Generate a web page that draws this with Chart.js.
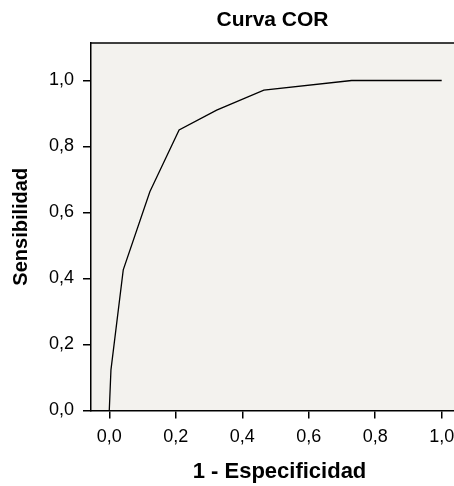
<!DOCTYPE html>
<html>
<head>
<meta charset="utf-8">
<script src="https://cdn.jsdelivr.net/npm/chart.js@4/dist/chart.umd.min.js"></script>
<style>
  html, body { margin: 0; padding: 0; background: #fff; }
  #chart { display: block; }
</style>
</head>
<body>
<canvas id="chart" width="454" height="486"></canvas>
<script>
// ROC curve points
const falsePositive = [0, 0.005, 0.042, 0.122, 0.21, 0.323, 0.465, 0.729, 1.0];
const sensitivity = [0, 0.123, 0.426, 0.663, 0.85, 0.91, 0.971, 1.0, 1.0];
const xTicks = [0, 0.2, 0.4, 0.6, 0.8, 1.0];
const yTicks = [0, 0.2, 0.4, 0.6, 0.8, 1.0];

const chartTitle = 'Curva COR';
const xTitle = '1 - Especificidad';
const yTitle = 'Sensibilidad';

const fontFamily = '"Liberation Sans", Arial, Helvetica, sans-serif';

function fmt(v) {
    return v.toFixed(1).replace('.', ',');
}

const points = falsePositive.map((x, i) => ({ x: x, y: sensitivity[i] }));

// plot background, top border, main title and x title
const framePlugin = {
    id: 'frame',
    beforeDraw(chart) {
        const ctx = chart.ctx;
        const a = chart.chartArea;
        ctx.save();
        ctx.fillStyle = '#f3f2ee';
        ctx.fillRect(a.left, a.top, chart.width - a.left, a.bottom - a.top);
        ctx.restore();
    },
    afterDraw(chart) {
        const ctx = chart.ctx;
        const a = chart.chartArea;
        ctx.save();
        ctx.strokeStyle = '#000';
        ctx.lineWidth = 1.5;
        ctx.beginPath();
        ctx.moveTo(a.left, a.top);
        ctx.lineTo(chart.width, a.top);
        ctx.stroke();

        ctx.fillStyle = '#000';
        ctx.textAlign = 'center';
        ctx.textBaseline = 'alphabetic';
        ctx.font = 'bold 21px ' + fontFamily;
        ctx.fillText(chartTitle, (a.left + chart.width) / 2, 26);

        ctx.font = 'bold 22px ' + fontFamily;
        ctx.fillText(xTitle, (a.left + chart.width) / 2 + 7, 478);
        ctx.restore();
    }
};

const ctx = document.getElementById('chart').getContext('2d');
new Chart(ctx, {
    type: 'scatter',
    data: {
        datasets: [{
            data: points,
            showLine: true,
            borderColor: '#000',
            borderWidth: 1.3,
            pointRadius: 0,
            pointHoverRadius: 0,
            fill: false,
            tension: 0
        }]
    },
    options: {
        responsive: false,
        animation: false,
        devicePixelRatio: 1,
        layout: {
            padding: { top: 43, left: 0, right: 0, bottom: 0 }
        },
        plugins: {
            legend: { display: false },
            tooltip: { enabled: false },
            title: { display: false }
        },
        scales: {
            x: {
                type: 'linear',
                min: -0.055,
                max: 1.037,
                afterBuildTicks: s => { s.ticks = xTicks.map(v => ({ value: v })); },
                afterFit: s => {
                    s.height = 75.5;
                    s.paddingRight = 0;
                    s.paddingLeft = 0;
                },
                grid: {
                    drawOnChartArea: false,
                    drawTicks: true,
                    tickLength: 8,
                    color: '#000',
                    lineWidth: 1.5
                },
                border: { display: true, color: '#000', width: 1.5 },
                ticks: {
                    color: '#000',
                    padding: 8,
                    maxRotation: 0,
                    font: { family: fontFamily, size: 18 },
                    callback: v => fmt(v)
                },
                title: { display: false }
            },
            y: {
                type: 'linear',
                min: 0,
                max: 1.1136,
                afterBuildTicks: s => { s.ticks = yTicks.map(v => ({ value: v })); },
                afterFit: s => {
                    s.width = 91;
                    s.paddingTop = 0;
                },
                grid: {
                    drawOnChartArea: false,
                    drawTicks: true,
                    tickLength: 8,
                    color: '#000',
                    lineWidth: 1.5
                },
                border: { display: true, color: '#000', width: 1.5 },
                ticks: {
                    color: '#000',
                    padding: 9,
                    font: { family: fontFamily, size: 18 },
                    callback: v => fmt(v)
                },
                title: {
                    display: true,
                    text: yTitle,
                    color: '#000',
                    padding: { top: 9, bottom: 0 },
                    font: { family: fontFamily, size: 20, weight: 'bold' }
                }
            }
        }
    },
    plugins: [framePlugin]
});
</script>
</body>
</html>
